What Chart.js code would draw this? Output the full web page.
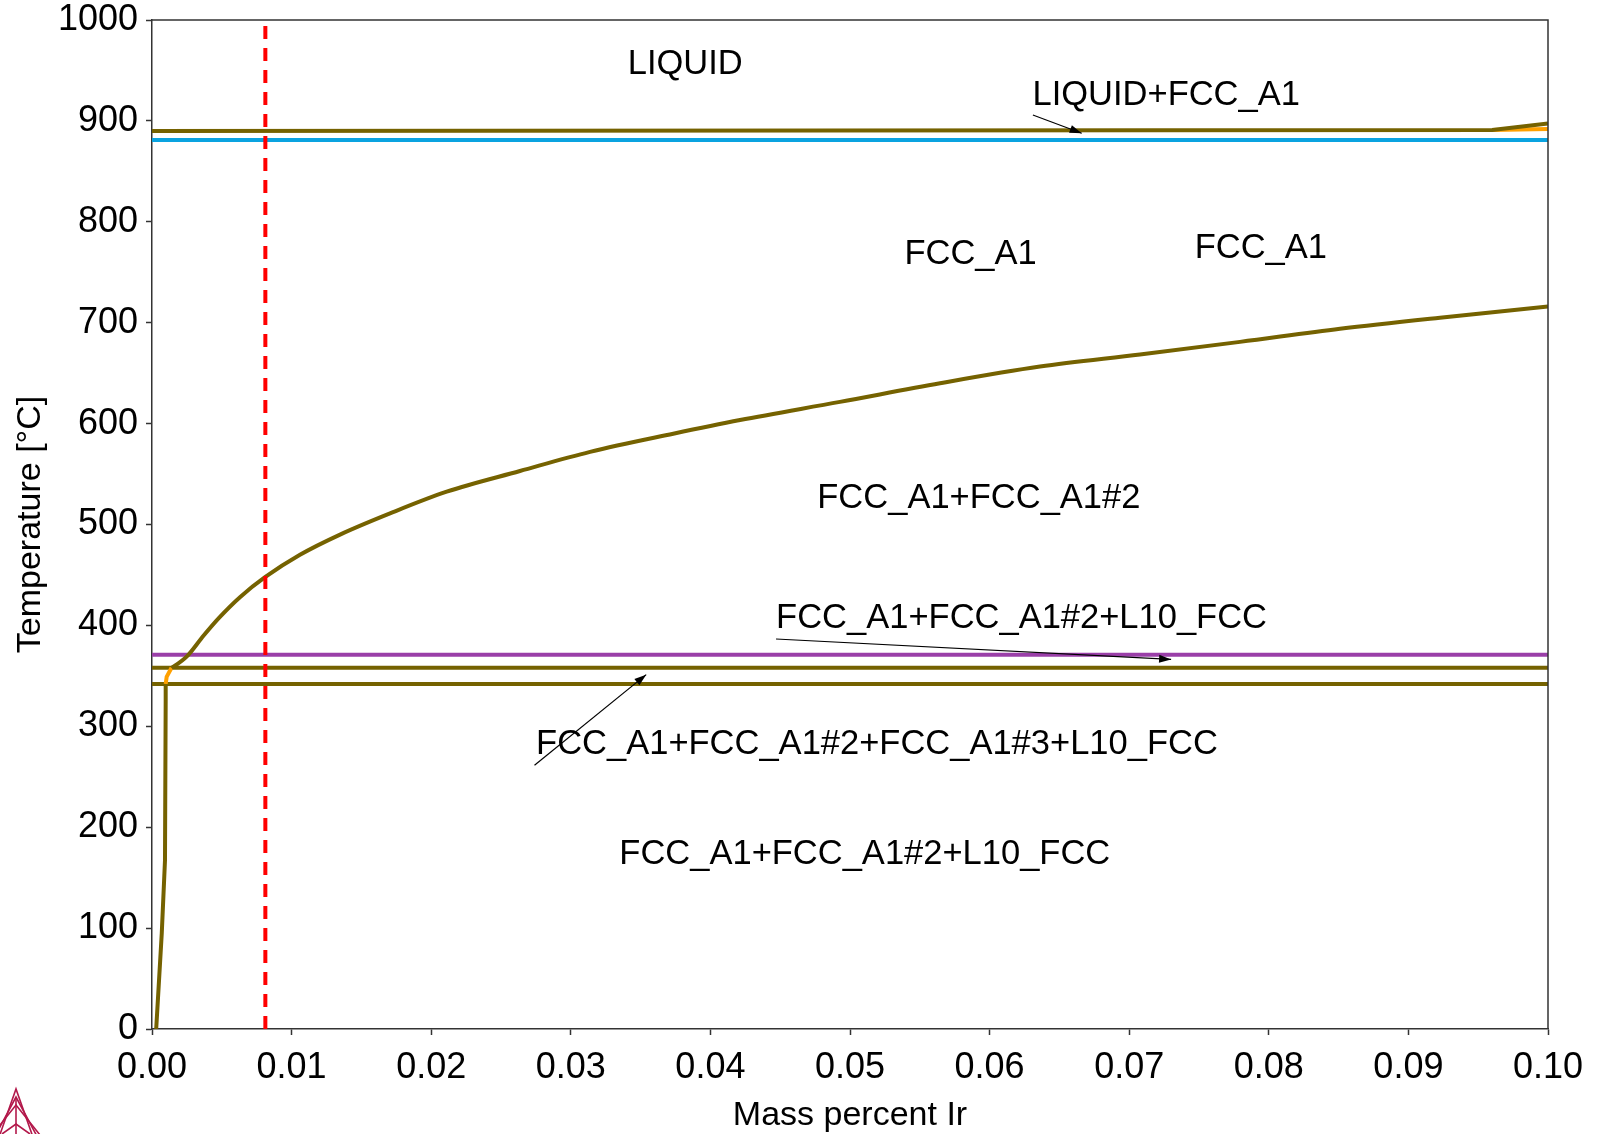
<!DOCTYPE html>
<html>
<head>
<meta charset="utf-8">
<script src="https://cdn.jsdelivr.net/npm/chart.js@4/dist/chart.umd.min.js"></script>
<style>
  html, body { margin: 0; padding: 0; background: #fff; }
  #wrap { width: 1597px; height: 1134px; }
</style>
</head>
<body>
<div id="wrap"><canvas id="phase-chart" width="1597" height="1134"></canvas></div>
<script>
// phase boundaries (x = mass percent Ir, T in C)
const liquidusX = [0, 0.096, 0.1];
const liquidusT = [890, 891, 897.5];
const liquidusOrangeX = [0.096, 0.1];
const liquidusOrangeT = [891, 892];
const solidusX = [0, 0.1];
const solidusT = [881, 881];
const l10X = [0, 0.1];
const l10T = [371, 371];
const upperTieX = [0, 0.1];
const upperTieT = [358, 358];
const lowerTieX = [0, 0.1];
const lowerTieT = [342, 342];
const solvusLowX = [0.0003, 0.0007, 0.00093, 0.00098, 0.00098];
const solvusLowT = [0, 95, 167, 326, 342];
const solvusOrangeX = [0.00098, 0.00105, 0.0014];
const solvusOrangeT = [342, 349, 358];
const solvusX = [0.0014, 0.00153, 0.00248, 0.0037, 0.0048, 0.0063, 0.00812, 0.0106, 0.01347, 0.01705,
  0.02111, 0.02636, 0.03138, 0.03734, 0.04212, 0.04928, 0.05645, 0.06361, 0.07077, 0.07794, 0.0851, 0.09226, 0.1];
const solvusT = [358, 359, 369, 390, 407.5, 428, 448, 470, 490, 511,
  532.5, 553, 572, 590, 603.5, 621.5, 640, 656.5, 668.5, 681, 694, 705, 716];
const markerX = [0.00812, 0.00812];
const markerT = [0, 1000];

const xTicks = [0, 0.01, 0.02, 0.03, 0.04, 0.05, 0.06, 0.07, 0.08, 0.09, 0.1];
const yTicks = [0, 100, 200, 300, 400, 500, 600, 700, 800, 900, 1000];

// labels: text, x, T
const labelText = ['LIQUID', 'LIQUID+FCC_A1', 'FCC_A1', 'FCC_A1', 'FCC_A1+FCC_A1#2',
  'FCC_A1+FCC_A1#2+L10_FCC', 'FCC_A1+FCC_A1#2+FCC_A1#3+L10_FCC', 'FCC_A1+FCC_A1#2+L10_FCC'];
const labelX = [0.0382, 0.07265, 0.05864, 0.07943, 0.05923, 0.06229, 0.05193, 0.05106];
const labelT = [955.6, 925.3, 767.9, 774, 525.7, 406.7, 281.5, 172.6];
// arrows: from (x0,T0) to (x1,T1)
const arrowX0 = [0.0631, 0.0447, 0.0274];
const arrowT0 = [905.8, 386.5, 261.4];
const arrowX1 = [0.0666, 0.0730, 0.0354];
const arrowT1 = [887.7, 366.3, 351.2];

const FONT = '"Liberation Sans", Arial, Helvetica, sans-serif';
const OLIVE = '#756200';

function pts(xs, ts) {
  return xs.map((x, i) => ({ x: x, y: ts[i] }));
}

function line(label, xs, ts, color, width, order, extra) {
  return Object.assign({
    label: label,
    data: pts(xs, ts),
    showLine: true,
    borderColor: color,
    backgroundColor: color,
    borderWidth: width,
    pointRadius: 0,
    pointHoverRadius: 0,
    tension: 0,
    fill: false,
    order: order
  }, extra || {});
}

const annotationsPlugin = {
  id: 'phaseLabels',
  afterDatasetsDraw(chart) {
    const ctx = chart.ctx;
    const xs = chart.scales.x, ys = chart.scales.y;
    const area = chart.chartArea;
    ctx.save();

    // frame on top and right
    ctx.strokeStyle = '#333';
    ctx.lineWidth = 1.5;
    ctx.beginPath();
    ctx.moveTo(area.left, area.top);
    ctx.lineTo(area.right, area.top);
    ctx.lineTo(area.right, area.bottom);
    ctx.stroke();

    // arrows
    ctx.strokeStyle = '#000';
    ctx.fillStyle = '#000';
    ctx.lineWidth = 1.2;
    for (let i = 0; i < arrowX0.length; i++) {
      const x0 = xs.getPixelForValue(arrowX0[i]), y0 = ys.getPixelForValue(arrowT0[i]);
      const x1 = xs.getPixelForValue(arrowX1[i]), y1 = ys.getPixelForValue(arrowT1[i]);
      const a = Math.atan2(y1 - y0, x1 - x0);
      ctx.beginPath();
      ctx.moveTo(x0, y0);
      ctx.lineTo(x1, y1);
      ctx.stroke();
      ctx.beginPath();
      ctx.moveTo(x1, y1);
      ctx.lineTo(x1 - 12 * Math.cos(a) + 4 * Math.sin(a), y1 - 12 * Math.sin(a) - 4 * Math.cos(a));
      ctx.lineTo(x1 - 12 * Math.cos(a) - 4 * Math.sin(a), y1 - 12 * Math.sin(a) + 4 * Math.cos(a));
      ctx.closePath();
      ctx.fill();
    }

    // phase region labels
    ctx.font = '34.5px ' + FONT;
    ctx.textAlign = 'center';
    ctx.textBaseline = 'middle';
    ctx.fillStyle = '#000';
    labelText.forEach((t, i) => {
      ctx.fillText(t, xs.getPixelForValue(labelX[i]), ys.getPixelForValue(labelT[i]));
    });

    // small logo, bottom-left
    ctx.strokeStyle = '#b3194b';
    ctx.lineWidth = 1.6;
    const ax = 16, ay = 1089;
    [0, 5, 10].forEach(d => {
      ctx.beginPath();
      ctx.moveTo(ax - 18 - d, 1140);
      ctx.lineTo(ax, ay + d * 1.6);
      ctx.lineTo(ax + 18 + d, 1140);
      ctx.stroke();
    });
    ctx.beginPath();
    ctx.moveTo(ax, ay + 8);
    ctx.lineTo(ax, 1134);
    ctx.stroke();
    ctx.beginPath();
    ctx.moveTo(ax - 14, 1134);
    ctx.lineTo(ax, 1124);
    ctx.lineTo(ax + 14, 1134);
    ctx.stroke();

    ctx.restore();
  }
};

const chartConfig = {
  type: 'scatter',
  data: {
    datasets: [
      line('marker', markerX, markerT, '#ff0000', 4, 0, { borderDash: [13, 9] }),
      line('L10 invariant', l10X, l10T, '#9a3fa8', 4, 3),
      line('tie 358', upperTieX, upperTieT, OLIVE, 4, 4),
      line('tie 342', lowerTieX, lowerTieT, OLIVE, 4, 4),
      line('solvus', solvusX, solvusT, OLIVE, 4, 2, { cubicInterpolationMode: 'monotone' }),
      line('solvus low', solvusLowX, solvusLowT, OLIVE, 4, 2),
      line('solvus orange', solvusOrangeX, solvusOrangeT, '#ffa000', 4, 2),
      line('liquidus', liquidusX, liquidusT, OLIVE, 4, 5),
      line('liquidus orange', liquidusOrangeX, liquidusOrangeT, '#ffa000', 4, 6),
      line('solidus', solidusX, solidusT, '#0aa3e0', 4, 5)
    ]
  },
  options: {
    responsive: false,
    animation: false,
    events: [],
    layout: { padding: { left: 0, right: 49, top: 20, bottom: 0 } },
    plugins: {
      legend: { display: false },
      tooltip: { enabled: false },
      title: { display: false }
    },
    scales: {
      x: {
        type: 'linear',
        min: 0,
        max: 0.1,
        afterFit: s => { s.height = 105; s.paddingLeft = 0; s.paddingRight = 0; },
        afterBuildTicks: s => { s.ticks = xTicks.map(v => ({ value: v })); },
        ticks: {
          autoSkip: false,
          maxRotation: 0,
          padding: 11,
          color: '#000',
          font: { family: FONT, size: 36 },
          callback: v => Number(v).toFixed(2)
        },
        grid: { drawOnChartArea: false, drawTicks: true, tickLength: 6, tickColor: '#333', tickWidth: 1.5 },
        border: { display: true, color: '#333', width: 1.5 },
        title: {
          display: true,
          text: 'Mass percent Ir',
          color: '#000',
          font: { family: FONT, size: 34, lineHeight: 1.1 },
          padding: { top: 0, bottom: 0 }
        }
      },
      y: {
        type: 'linear',
        min: 0,
        max: 1000,
        afterFit: s => { s.width = 152; s.paddingTop = 0; s.paddingBottom = 0; },
        afterBuildTicks: s => { s.ticks = yTicks.map(v => ({ value: v })); },
        ticks: {
          autoSkip: false,
          padding: 8,
          color: '#000',
          font: { family: FONT, size: 36 },
          callback: v => String(v)
        },
        grid: { drawOnChartArea: false, drawTicks: true, tickLength: 6, tickColor: '#333', tickWidth: 1.5 },
        border: { display: true, color: '#333', width: 1.5 },
        title: {
          display: true,
          text: 'Temperature [°C]',
          color: '#000',
          font: { family: FONT, size: 34 },
          padding: { top: 10, bottom: 0 }
        }
      }
    }
  },
  plugins: [annotationsPlugin]
};

const phaseChart = new Chart(document.getElementById('phase-chart'), chartConfig);
</script>
</body>
</html>
